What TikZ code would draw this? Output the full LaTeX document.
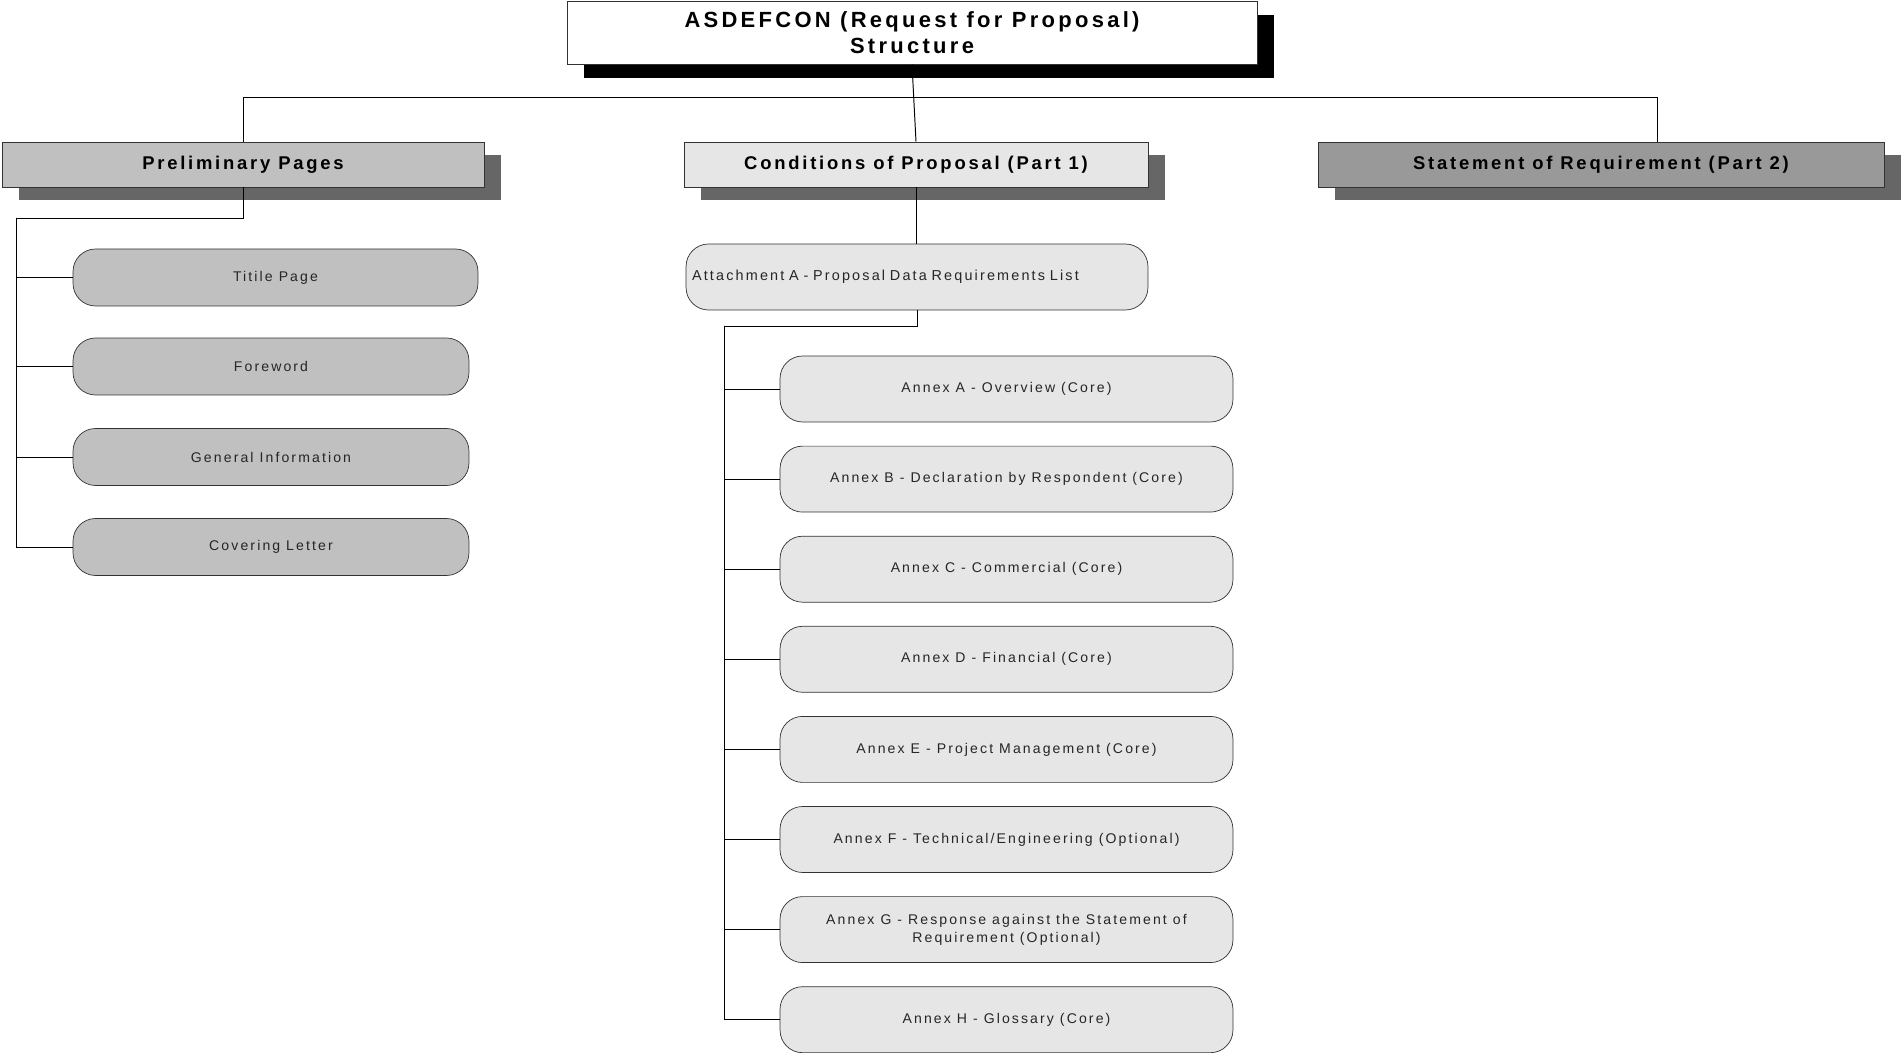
\documentclass[tikz,border=0pt]{standalone}
\usepackage{fontspec}
\setmainfont{Liberation Sans}[LetterSpace=15]
\usetikzlibrary{positioning, shadows, calc}

\definecolor{silverfill}{HTML}{C0C0C0}
\definecolor{palefill}{HTML}{E6E6E6}
\definecolor{darkfill}{HTML}{999999}
\definecolor{shadegray}{HTML}{666666}

\begin{document}
\begin{tikzpicture}[
    x=0.02cm, y=-0.02cm,
    % Node styles
    titlebox/.style={
        rectangle,
        draw=black!80,
        fill=white,
        minimum width=13.8cm,
        minimum height=1.26cm,
        align=center,
        font=\fontsize{12.5}{15}\selectfont\bfseries,
        drop shadow={shadow xshift=0.34cm, shadow yshift=-0.29cm, fill=black, opacity=1}
    },
    part/.style={
        rectangle,
        draw=black!80,
        fill=#1,
        minimum height=0.9cm,
        align=center,
        font=\fontsize{10.5}{12}\selectfont\bfseries,
        drop shadow={shadow xshift=0.34cm, shadow yshift=-0.27cm, fill=shadegray, opacity=1}
    },
    part/.default=silverfill,
    item/.style={
        rectangle,
        rounded corners=0.45cm,
        draw=black!80,
        fill=#1,
        align=center,
        font=\fontsize{8}{10}\selectfont,
        text=black!85
    },
    item/.default=palefill,
    link/.style={
        line width=0.55pt,
        draw=black
    }
]

\useasboundingbox (0,0) rectangle (1901,1053);

% Top of the tree
\node[titlebox] (title) at (912,32.5) {ASDEFCON (Request for Proposal)\\Structure};

% The three parts
\node[part, minimum width=9.64cm] (prelim) at (243,164.5) {Preliminary Pages};
\node[part=palefill, minimum width=9.28cm] (cond) at (916,164.5) {Conditions of Proposal (Part 1)};
\node[part=darkfill, minimum width=11.32cm] (sor) at (1601,164.5) {Statement of Requirement (Part 2)};

% Preliminary pages
\node[item=silverfill, minimum width=8.1cm, minimum height=1.14cm] (titlepage) at (275.5,277.5) {Titile Page};
\node[item=silverfill, minimum width=7.92cm, minimum height=1.14cm] (foreword) at (271,366.5) {Foreword};
\node[item=silverfill, minimum width=7.92cm, minimum height=1.14cm] (geninfo) at (271,457) {General Information};
\node[item=silverfill, minimum width=7.92cm, minimum height=1.14cm] (cover) at (271,547) {Covering Letter};

% Attachment A
\node[item, font=\fontsize{8.2}{10}\selectfont, text width=9.0cm, inner xsep=0.12cm, align=left, minimum height=1.32cm] (attA) at (917,277) {Attachment A - Proposal Data Requirements List};

% Annexes
\foreach \n/\txt [count=\i from 0] in {
    annexA/{Annex A - Overview (Core)},
    annexB/{Annex B - Declaration by Respondent (Core)},
    annexC/{Annex C - Commercial (Core)},
    annexD/{Annex D - Financial (Core)},
    annexE/{Annex E - Project Management (Core)},
    annexF/{Annex F - Technical/Engineering (Optional)},
    annexG/{Annex G - Response against the Statement of\\Requirement (Optional)},
    annexH/{Annex H - Glossary (Core)}} {
    \node[item, minimum width=9.06cm, minimum height=1.32cm] (\n) at (1006.5,389+90.1*\i) {\txt};
}

% Connectors from the title
\coordinate (bus) at ($(title.south)+(0,33)$);
\coordinate (sordrop) at ($(sor.north)+(56,0)$);
\draw[link] (title.south) -- (cond.north);
\draw[link] (prelim.north) |- (bus) -| (sordrop);

% Connectors for preliminary pages
\coordinate (lspine) at (16,218);
\draw[link] (prelim.south) |- (lspine);
\foreach \b in {titlepage, foreword, geninfo, cover} {
    \draw[link] (lspine) |- (\b.west);
}

% Connectors for conditions of proposal
\draw[link] (cond.south) -- (attA.north -| cond.south);
\coordinate (rspine) at (724,326);
\draw[link] (attA.south) |- (rspine);
\foreach \b in {annexA, annexB, annexC, annexD, annexE, annexF, annexG, annexH} {
    \draw[link] (rspine) |- (\b.west);
}

\end{tikzpicture}
\end{document}
